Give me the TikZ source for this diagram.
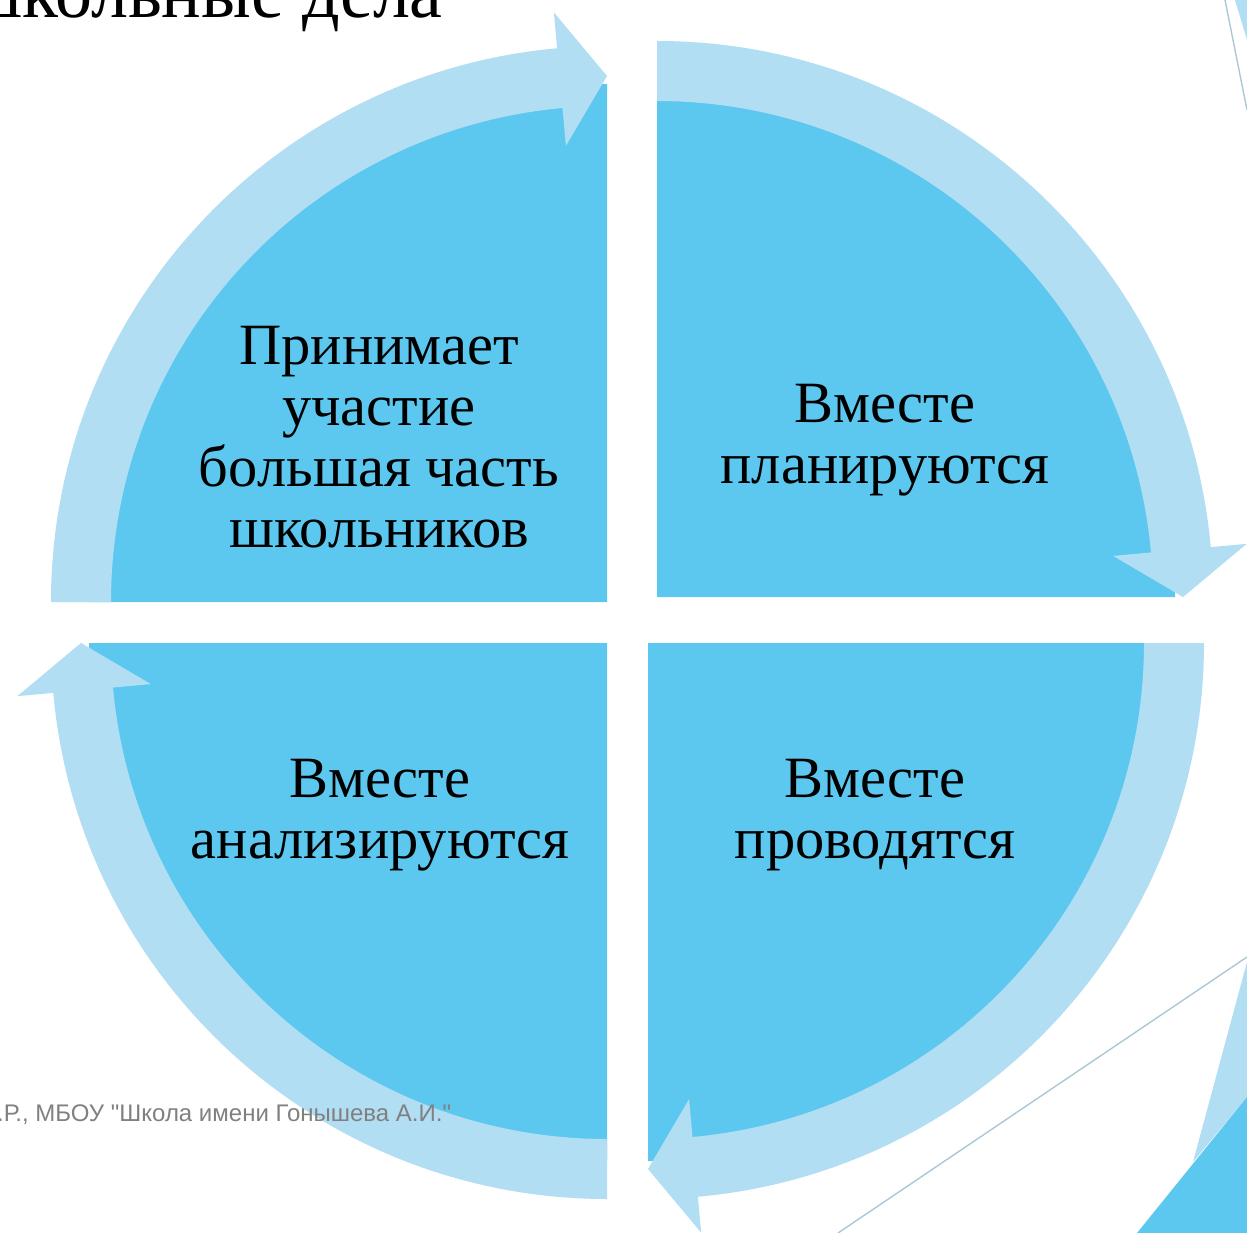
\documentclass[tikz,border=0pt]{standalone}
\usepackage{fontspec}
\setmainfont{Liberation Serif}
\newfontfamily\footfont{Liberation Sans}
\usetikzlibrary{calc}
\definecolor{darkblue}{RGB}{93,200,239}
\definecolor{lightblue}{RGB}{178,222,244}
\definecolor{footgray}{RGB}{128,128,128}
\definecolor{decoline}{RGB}{170,200,215}
\tikzset{
  quarter/.style={fill=darkblue},
  band/.style={fill=lightblue},
  lbl/.style={align=center, text=black, inner sep=0pt, font=\fontsize{58.5}{61}\selectfont},
  decorule/.style={draw=decoline, line width=1.4pt},
}
% #1 corner, #2 tip angle; tail lies 90 degrees further counter-clockwise
\newcommand{\cycquarter}[2]{%
  \fill[quarter] (#1) -- ($(#1)+({#2}:518pt)$) arc[start angle={#2}, end angle={#2+90}, radius=518pt] -- cycle;
  \fill[band] ($(#1)+({#2+90}:556pt)$) arc[start angle={#2+90}, end angle={#2+5.15}, radius=556pt]
    -- ($(#1)+({#2+5.15}:592pt)$) -- ($(#1)+({#2}:526pt)$) -- ($(#1)+({#2+5.15}:458pt)$)
    -- ($(#1)+({#2+5.15}:496pt)$) arc[start angle={#2+5.15}, end angle={#2+90}, radius=496pt] -- cycle;
}
\begin{document}
\begin{tikzpicture}[x=1pt,y=1pt]
\useasboundingbox (0,0) rectangle (1247,-1233);
\clip (0,0) rectangle (1247,-1233);
\fill[white] (0,0) rectangle (1247,-1233);

% corners of the four quarters
\coordinate (c1) at (607,-602);
\coordinate (c2) at (657,-597);
\coordinate (c3) at (648,-643);
\coordinate (c4) at (607,-643);

% decoration, bottom right
\fill[lightblue] (1247,-962) -- (1193,-1162) -- (1247,-1097) -- cycle;
\fill[darkblue] (1137,-1233) -- (1247,-1097) -- (1247,-1233) -- cycle;
\coordinate (d1) at (1247,-957);
\coordinate (d2) at (838,-1233);
\draw[decorule] (d1) -- (d2);
% decoration, top right
\fill[lightblue] (1235,0) -- (1247,0) -- (1247,-40) -- cycle;
\coordinate (d3) at (1225,0);
\coordinate (d4) at (1247,-110);
\draw[decorule] (d3) -- (d4);

\cycquarter{c1}{90}
\cycquarter{c2}{0}
\cycquarter{c3}{-90}
\cycquarter{c4}{180}

\node[lbl] (t1) at (379,-437) {Принимает\\участие\\большая часть\\школьников};
\node[lbl] (t2) at (885,-440) {Вместе\\планируются};
\node[lbl] (t3) at (380,-815) {Вместе\\анализируются};
\node[lbl] (t4) at (875,-815) {Вместе\\проводятся};

\node[anchor=base east, inner sep=0pt, font=\fontsize{74}{74}\selectfont] (title) at (443,-18) {школьные дела};
\node[anchor=base west, inner sep=0pt, text=footgray, font=\footfont\fontsize{24}{24}\selectfont] (foot) at (-3,-1121) {.Р., МБОУ "Школа имени Гонышева А.И."};
\end{tikzpicture}
\end{document}
